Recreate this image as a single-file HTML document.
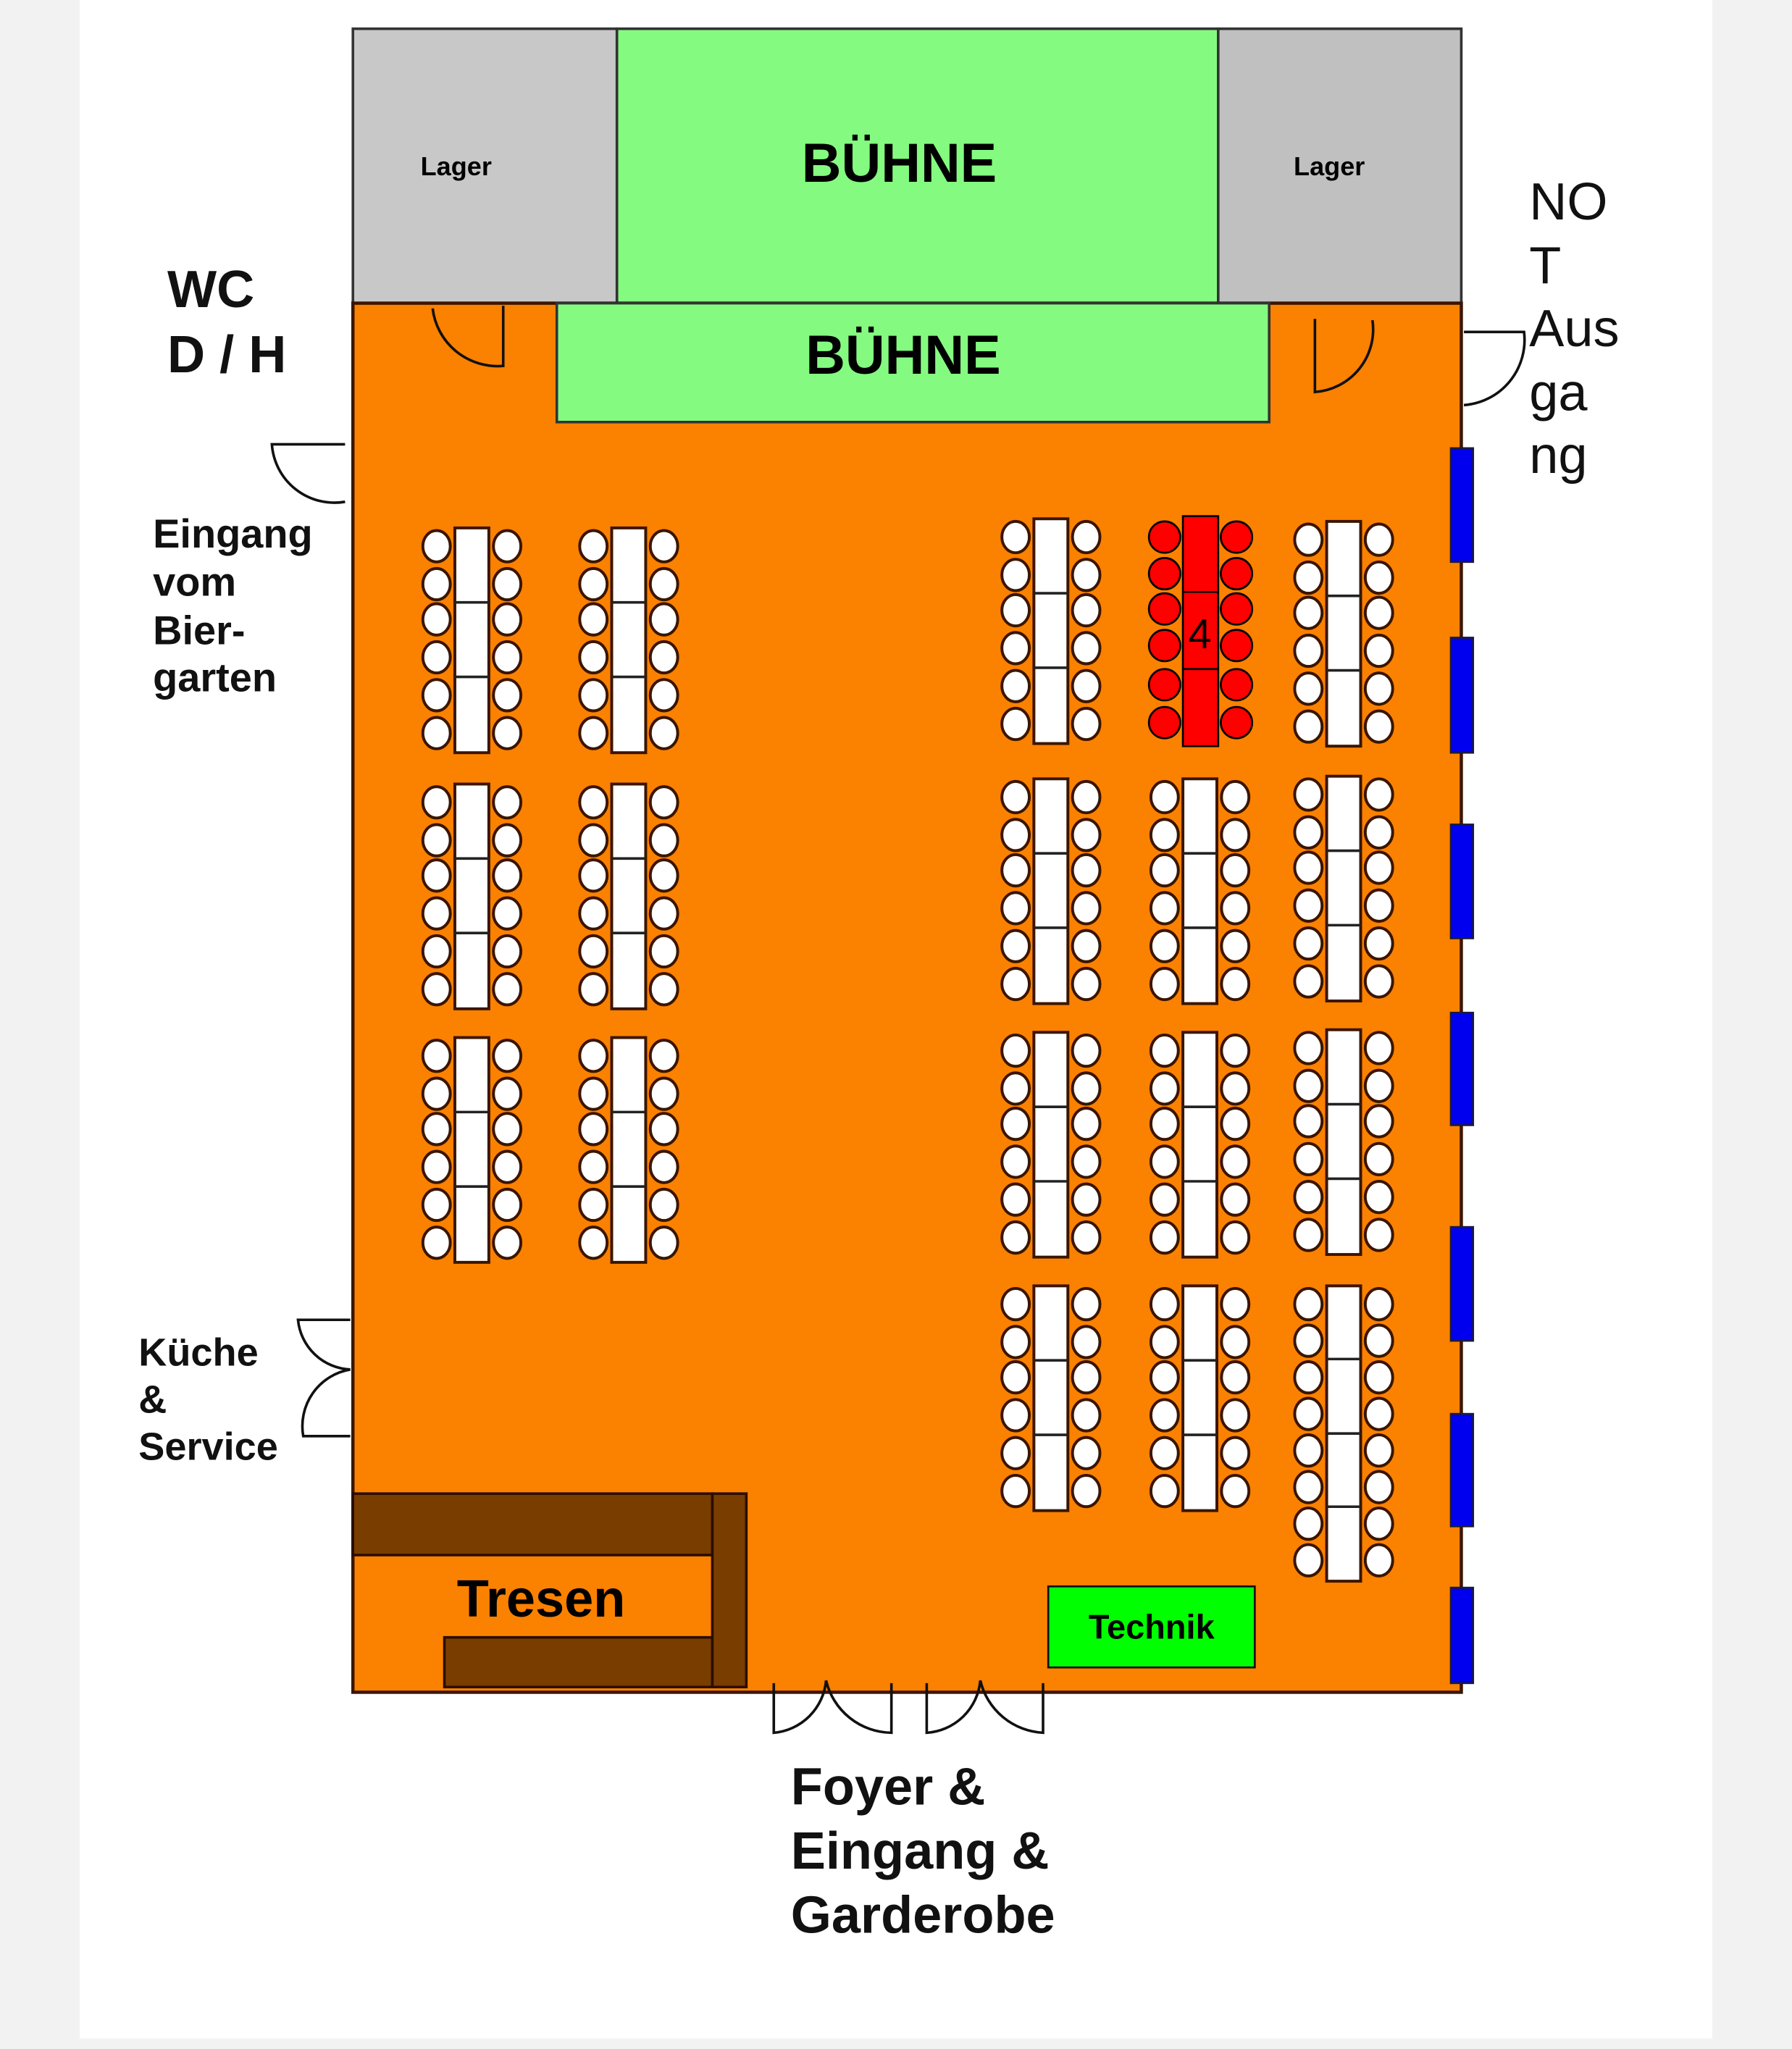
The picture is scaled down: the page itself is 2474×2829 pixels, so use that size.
<!DOCTYPE html>
<html><head><meta charset="utf-8"><style>
html,body{margin:0;padding:0;background:#f2f2f2}
svg{display:block}
text{font-family:"Liberation Sans",sans-serif}
</style></head><body>
<svg width="2474" height="2829" viewBox="0 0 1371 1568" preserveAspectRatio="none" xmlns="http://www.w3.org/2000/svg">
<defs>
<g id="c"><ellipse cx="0" cy="0" rx="10.5" ry="12" fill="#fff" stroke="#3a1500" stroke-width="2.2"/></g>
<g id="t6">
<rect x="-13" y="0" width="26" height="172" fill="#fff" stroke="#3a1500" stroke-width="2.2"/>
<line x1="-13" y1="57" x2="13" y2="57" stroke="#222" stroke-width="2"/>
<line x1="-13" y1="114" x2="13" y2="114" stroke="#222" stroke-width="2"/>
<use href="#c" x="-27" y="14"/><use href="#c" x="-27" y="43"/><use href="#c" x="-27" y="70"/><use href="#c" x="-27" y="99"/><use href="#c" x="-27" y="128"/><use href="#c" x="-27" y="157"/>
<use href="#c" x="27" y="14"/><use href="#c" x="27" y="43"/><use href="#c" x="27" y="70"/><use href="#c" x="27" y="99"/><use href="#c" x="27" y="128"/><use href="#c" x="27" y="157"/>
</g>
<g id="t8">
<rect x="-13" y="0" width="26" height="226" fill="#fff" stroke="#3a1500" stroke-width="2.2"/>
<line x1="-13" y1="56" x2="13" y2="56" stroke="#222" stroke-width="2"/>
<line x1="-13" y1="113" x2="13" y2="113" stroke="#222" stroke-width="2"/>
<line x1="-13" y1="169" x2="13" y2="169" stroke="#222" stroke-width="2"/>
<use href="#c" x="-27" y="14"/><use href="#c" x="-27" y="42"/><use href="#c" x="-27" y="70"/><use href="#c" x="-27" y="98"/><use href="#c" x="-27" y="126"/><use href="#c" x="-27" y="154"/><use href="#c" x="-27" y="182"/><use href="#c" x="-27" y="210"/>
<use href="#c" x="27" y="14"/><use href="#c" x="27" y="42"/><use href="#c" x="27" y="70"/><use href="#c" x="27" y="98"/><use href="#c" x="27" y="126"/><use href="#c" x="27" y="154"/><use href="#c" x="27" y="182"/><use href="#c" x="27" y="210"/>
</g>
<g id="rc"><circle cx="0" cy="0" r="12" fill="#f00" stroke="#000" stroke-width="1.5"/></g>
</defs>
<rect x="0" y="0" width="1371" height="1568" fill="#f2f2f2"/>
<rect x="61" y="0" width="1249" height="1560" fill="#fff"/>

<rect x="270" y="22" width="202" height="210" fill="#c8c8c8" stroke="#333" stroke-width="2"/>
<rect x="472" y="22" width="460" height="210" fill="#84fb80" stroke="#333" stroke-width="2"/>
<rect x="932" y="22" width="186" height="210" fill="#c0c0c0" stroke="#333" stroke-width="2"/>
<text x="349" y="134" font-size="20" font-weight="bold" text-anchor="middle">Lager</text>
<text x="1017" y="134" font-size="20" font-weight="bold" text-anchor="middle">Lager</text>
<text x="688" y="139" font-size="42" font-weight="bold" text-anchor="middle">BÜHNE</text>

<rect x="270" y="232" width="848" height="1063" fill="#fb8100" stroke="#3a1500" stroke-width="2.5"/>
<rect x="426" y="232" width="545" height="91" fill="#84fb80" stroke="#333" stroke-width="2"/>
<text x="691" y="286" font-size="42" font-weight="bold" text-anchor="middle">BÜHNE</text>

<g fill="#0000ee" stroke="#1a1a40" stroke-width="1.5">
<rect x="1110" y="343" width="17" height="87"/>
<rect x="1110" y="488" width="17" height="88"/>
<rect x="1110" y="631" width="17" height="87"/>
<rect x="1110" y="775" width="17" height="86"/>
<rect x="1110" y="939" width="17" height="87"/>
<rect x="1110" y="1082" width="17" height="86"/>
<rect x="1110" y="1215" width="17" height="73"/>
</g>

<g fill="none" stroke="#111" stroke-width="2">
<path d="M385,234 L385,280 A50,50 0 0 1 331,236"/>
<path d="M1006,244 L1006,300 A48,48 0 0 0 1050,245"/>
<path d="M1120,254 L1166,254 A50,50 0 0 1 1120,310"/>
<path d="M264,340 L208,340 A48,48 0 0 0 264,384"/>
<path d="M268,1010 L228,1010 A42,42 0 0 0 268,1048"/>
<path d="M268,1099 L232,1099 A44,44 0 0 1 268,1048"/>
<path d="M592,1288 L592,1326 A44,44 0 0 0 632,1286"/>
<path d="M682,1288 L682,1326 A52,52 0 0 1 632,1286"/>
<path d="M709,1288 L709,1326 A44,44 0 0 0 750,1286"/>
<path d="M798,1288 L798,1326 A52,52 0 0 1 750,1286"/>
</g>

<g fill="#7a3d00" stroke="#2a0e00" stroke-width="2">
<rect x="270" y="1143" width="275" height="47"/>
<rect x="340" y="1253" width="205" height="38"/>
<rect x="545" y="1143" width="26" height="148"/>
</g>
<text x="414" y="1237" font-size="40" font-weight="bold" text-anchor="middle">Tresen</text>

<rect x="802" y="1214" width="158" height="62" fill="#00ff00" stroke="#111" stroke-width="1.5"/>
<text x="881" y="1254" font-size="26" font-weight="bold" text-anchor="middle">Technik</text>

<use href="#t6" x="361" y="404"/><use href="#t6" x="481" y="404"/>
<use href="#t6" x="361" y="600"/><use href="#t6" x="481" y="600"/>
<use href="#t6" x="361" y="794"/><use href="#t6" x="481" y="794"/>
<use href="#t6" x="804" y="397"/><use href="#t6" x="1028" y="399"/>
<use href="#t6" x="804" y="596"/><use href="#t6" x="918" y="596"/><use href="#t6" x="1028" y="594"/>
<use href="#t6" x="804" y="790"/><use href="#t6" x="918" y="790"/><use href="#t6" x="1028" y="788"/>
<use href="#t6" x="804" y="984"/><use href="#t6" x="918" y="984"/><use href="#t8" x="1028" y="984"/>

<rect x="905" y="395" width="27" height="176" fill="#f00" stroke="#000" stroke-width="1.5"/>
<line x1="905" y1="453" x2="932" y2="453" stroke="#000" stroke-width="1.5"/>
<line x1="905" y1="512" x2="932" y2="512" stroke="#000" stroke-width="1.5"/>
<use href="#rc" x="891" y="411"/><use href="#rc" x="891" y="439"/><use href="#rc" x="891" y="466"/><use href="#rc" x="891" y="494"/><use href="#rc" x="891" y="524"/><use href="#rc" x="891" y="553"/>
<use href="#rc" x="946" y="411"/><use href="#rc" x="946" y="439"/><use href="#rc" x="946" y="466"/><use href="#rc" x="946" y="494"/><use href="#rc" x="946" y="524"/><use href="#rc" x="946" y="553"/>
<text x="918" y="496" font-size="32" text-anchor="middle">4</text>

<g font-weight="bold" fill="#111">
<text x="128" y="235" font-size="40">WC</text>
<text x="128" y="285" font-size="40">D / H</text>
<text x="117" y="419" font-size="31">Eingang</text>
<text x="117" y="456" font-size="31">vom</text>
<text x="117" y="493" font-size="31">Bier-</text>
<text x="117" y="529" font-size="31">garten</text>
<text x="106" y="1045" font-size="30">Küche</text>
<text x="106" y="1081" font-size="30">&amp;</text>
<text x="106" y="1117" font-size="30">Service</text>
<text x="605" y="1381" font-size="40">Foyer &amp;</text>
<text x="605" y="1430" font-size="40">Eingang &amp;</text>
<text x="605" y="1479" font-size="40">Garderobe</text>
</g>
<g font-size="40" fill="#111">
<text x="1170" y="168">NO</text>
<text x="1170" y="217">T</text>
<text x="1170" y="265">Aus</text>
<text x="1170" y="314">ga</text>
<text x="1170" y="362">ng</text>
</g>
</svg>
</body></html>
